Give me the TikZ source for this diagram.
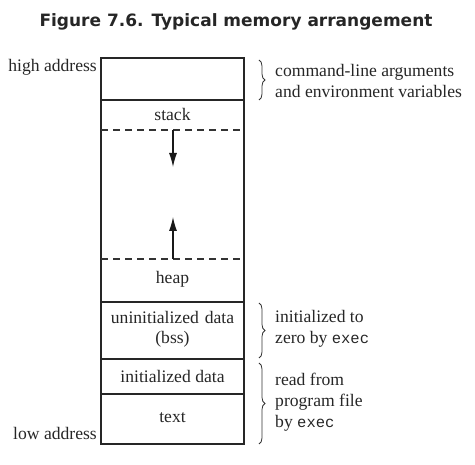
\documentclass[tikz,border=0pt]{standalone}
\usepackage{fontspec}
\setmainfont{Liberation Serif}
\setmonofont{Liberation Mono}
\newfontfamily\titlefont{DejaVu Sans}
\usetikzlibrary{decorations.pathreplacing,arrows.meta}
\newcommand{\mexec}{{\ttfamily\fontsize{15.5}{19}\selectfont exec}}
\begin{document}
\begin{tikzpicture}[x=1pt,y=-1pt,
  lbl/.style={font=\fontsize{17.6}{20}\selectfont, text=black!85, inner sep=0pt, align=center},
  side/.style={lbl, anchor=west, align=left},
  brc/.style={decorate, decoration={brace, amplitude=6pt}, line width=0.8pt, black!80},
  seg/.style={line width=1.1pt, black!85},
  dsh/.style={line width=1.1pt, black!80, dash pattern=on 7pt off 5pt},
  arr/.style={line width=1.1pt, black!90, -{Latex[length=14pt,width=8pt]}}]
\useasboundingbox (0,0) rectangle (475,465);
\node[font=\titlefont\bfseries\fontsize{17}{20}\selectfont, text=black!85] (title) at (236,22) {Figure 7.6. Typical memory arrangement};
% memory column
\draw[seg] (101,58) rectangle (244,444);
\draw[seg] (101,100) -- (244,100);
\draw[dsh] (101,130) -- (244,130);
\draw[dsh] (101,259) -- (244,259);
\draw[seg] (101,302) -- (244,302);
\draw[seg] (101,359) -- (244,359);
\draw[seg] (101,394) -- (244,394);
% texts in column
\node[lbl] (stack) at (172.5,114) {stack};
\node[lbl] (heap) at (172.5,279) {heap};
\node[lbl, text width=140pt] (bss) at (172.5,329) {uninitialized data\\(bss)};
\node[lbl] (init) at (172.5,376) {initialized data};
\node[lbl] (text) at (172.5,418) {text};
% arrows
\coordinate (sa) at (173,130);
\coordinate (sb) at (173,167);
\coordinate (ha) at (173,259);
\coordinate (hb) at (173,217);
\draw[arr] (sa) -- (sb);
\draw[arr] (ha) -- (hb);
% addresses
\node[lbl, anchor=east] (high) at (97,67) {high address};
\node[lbl, anchor=east] (low) at (97,433) {low address};
% braces
\coordinate (b1a) at (259,60);
\coordinate (b1b) at (259,100);
\coordinate (b2a) at (259,303);
\coordinate (b2b) at (259,358);
\coordinate (b3a) at (259,363);
\coordinate (b3b) at (259,444);
\draw[brc] (b1a) -- (b1b);
\draw[brc] (b2a) -- (b2b);
\draw[brc] (b3a) -- (b3b);
\node[side] (env) at (275,81) {command-line arguments\\[1pt]and environment variables};
\node[side] (zero) at (275,329) {initialized to\\[1pt]zero by \mexec};
\node[side] (read) at (275,402) {read from\\[1pt]program file\\[1pt]by \mexec};
\end{tikzpicture}
\end{document}
